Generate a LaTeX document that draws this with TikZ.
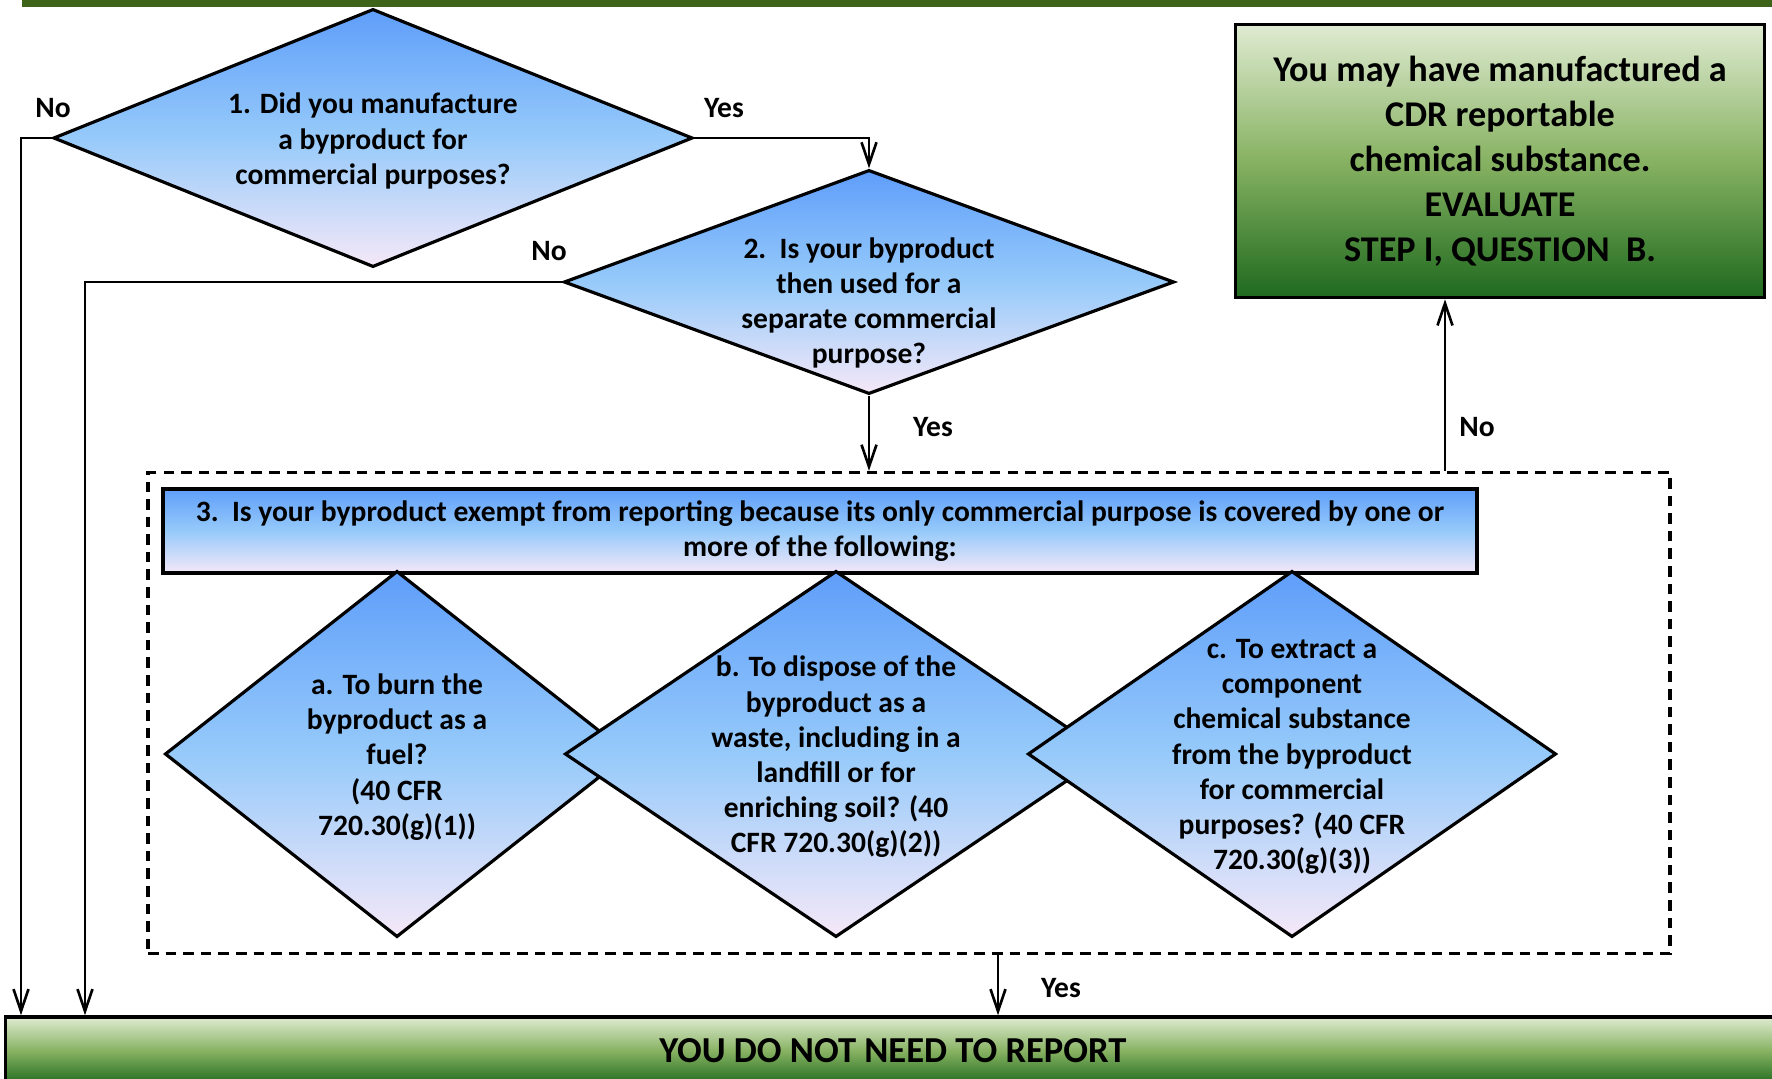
\documentclass[tikz,border=0pt]{standalone}
\usepackage{fontspec}
\setmainfont{Carlito}
\usetikzlibrary{shapes.geometric,arrows.meta}
\definecolor{qblue}{RGB}{95,158,250}
\definecolor{qmid}{RGB}{150,202,250}
\definecolor{qpink}{RGB}{245,232,248}
\definecolor{glight}{RGB}{224,235,210}
\definecolor{gmid}{RGB}{135,178,98}
\definecolor{gdark}{RGB}{30,105,30}
\definecolor{barline}{RGB}{62,100,26}
\begin{document}
\begin{tikzpicture}[x=0.01cm, y=-0.01cm,
        qdiam/.style={diamond, draw, line width=0.9pt, inner sep=0pt,
            top color=qblue, bottom color=qpink, middle color=qmid},
        qtxt/.style={align=center, font=\fontsize{8.4}{10}\selectfont\bfseries},
        qbox/.style={rectangle, draw, line width=1pt, qtxt,
            top color=qblue, bottom color=qpink, middle color=qmid},
        gbox/.style={rectangle, draw, line width=1pt, align=center,
            font=\fontsize{10.3}{12.8}\selectfont\bfseries,
            top color=glight, bottom color=gdark, middle color=gmid},
        grp/.style={rectangle, draw, line width=0.9pt, dash pattern=on 3pt off 2pt},
        lbl/.style={font=\fontsize{8.4}{10}\selectfont\bfseries},
        arr/.style={-{Straight Barb[length=2.2mm,width=1.5mm]}, line width=0.75pt}]
    \path[use as bounding box, clip] (0,0) rectangle (1772,1079);
    \fill[barline] (22,0) rectangle (1772,7);
    \node[qdiam, minimum width=6.39cm, minimum height=2.58cm] (d1) at (373,138) {};
    \node[qtxt] (d1t) at ([yshift=-0.3mm]d1.center) {1. Did you manufacture\\a byproduct for\\commercial purposes?};
    \node[qdiam, minimum width=6.1cm, minimum height=2.24cm] (d2) at (869,282) {};
    \node[qtxt] (d2t) at ([yshift=-2.1mm]d2.center) {2.\ \ Is your byproduct\\then used for a\\separate commercial\\purpose?};
    \node[gbox, minimum width=5.29cm, minimum height=2.73cm] (res) at (1500,161)
        {You may have manufactured a\\CDR reportable\\chemical substance.\\EVALUATE\\STEP I, QUESTION\ \ B.};
    \node[grp, minimum width=15.21cm, minimum height=4.81cm] (grp) at (909,713) {};
    \node[qbox, minimum width=13.13cm, minimum height=0.84cm] (q3) at (820,531)
        {3.\ \ Is your byproduct exempt from reporting because its only commercial purpose is covered by one or\\more of the following:};
    \node[qdiam, minimum width=4.64cm, minimum height=3.66cm] (qa) at (397,754) {};
    \node[qtxt] (qat) at ([yshift=-0.3mm]qa.center) {a. To burn the\\byproduct as a\\fuel?\\(40 CFR\\720.30(g)(1))};
    \node[qdiam, minimum width=5.42cm, minimum height=3.66cm] (qb) at (836,754) {};
    \node[qtxt] (qbt) at ([yshift=-0.3mm]qb.center) {b. To dispose of the\\byproduct as a\\waste, including in a\\landfill or for\\enriching soil? (40\\CFR 720.30(g)(2))};
    \node[qdiam, minimum width=5.28cm, minimum height=3.66cm] (qc) at (1292,754) {};
    \node[qtxt] (qct) at ([yshift=-0.3mm]qc.center) {c. To extract a\\component\\chemical substance\\from the byproduct\\for commercial\\purposes? (40 CFR\\720.30(g)(3))};
    \node[gbox, minimum width=17.74cm, minimum height=0.68cm, font=\fontsize{10.4}{12}\selectfont\bfseries] (done) at (893,1051) {YOU DO NOT NEED TO REPORT};
    \coordinate (k1) at (21,0);
    \coordinate (k2) at (85,0);
    \coordinate (k3) at (1445,0);
    \coordinate (k4) at (998,0);
    \draw[arr] (d1.west) -| (k1 |- done.north);
    \draw[arr] (d1.east) -| (d2.north);
    \draw[arr] (d2.west) -| (k2 |- done.north);
    \draw[arr] (d2.south) -- (d2.south |- grp.north);
    \draw[arr] (k3 |- grp.north) -- (k3 |- res.south);
    \draw[arr] (k4 |- grp.south) -- (k4 |- done.north);
    \foreach \x/\y/\t [count=\i] in {53/108/No, 724/108/Yes, 549/251/No, 933/427/Yes, 1477/427/No, 1061/988/Yes}
        \node[lbl] (lab\i) at (\x,\y) {\t};
\end{tikzpicture}
\end{document}
